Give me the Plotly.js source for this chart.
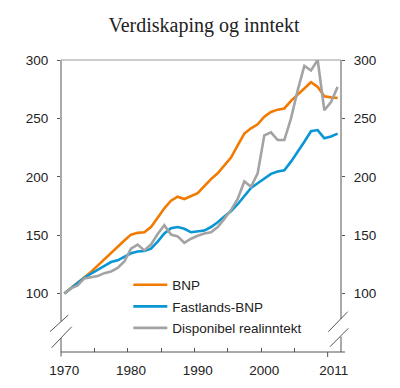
<!DOCTYPE html>
<html><head><meta charset="utf-8">
<script src="https://cdn.plot.ly/plotly-3.0.1.min.js"></script>
<style>html,body{margin:0;padding:0;background:#fff}#chart{width:400px;height:388px}</style>
</head><body><div id="chart"></div>
<script>
const years = [1970,1971,1972,1973,1974,1975,1976,1977,1978,1979,
  1980,1981,1982,1983,1984,1985,1986,1987,1988,1989,
  1990,1991,1992,1993,1994,1995,1996,1997,1998,1999,
  2000,2001,2002,2003,2004,2005,2006,2007,2008,2009,2010,2011];
const bnp = [100,104.5,109,113.5,118.5,124,129.5,135,140,145.5,
  150.5,152,152.5,157,165,173,179.5,183,181,183.5,
  186,192,198,203,210,216.5,227,237,241.5,245,
  251.5,255.5,257.5,258.5,265,270.5,276,281,277,269,268,267.5];
const fastlandsBnp = [100,104.5,108.5,113.5,117,120.5,124,127,128.5,131.5,
  134.5,136,136.5,138.5,144.5,151.5,156,157,155.5,152.5,
  153,154,157,161,166,170.5,176.5,184,190.5,194.5,
  198.5,202.5,204.5,205.5,213,221,230,239,240,233,234.5,237];
const disponibel = [100,104.5,107,113,114,115,117.5,119,122,127.5,
  138.5,142,137,142,151,158.5,150.5,149,143.5,147,
  149.5,151.5,152.5,157,164,171.5,181,196,191.5,203,
  235.5,238,231.5,231.5,250,274,295,291,300,257,264,277];
const seriesNames = ['BNP','Fastlands-BNP','Disponibel realinntekt'];
const seriesColors = ['#f27a00','#0896d4','#a3a3a3'];
const xTickLabels = ['1970','1980','1990','2000','2011'];
const xTickLabelPos = [1970.5,1980.5,1990.5,2000.5,2010.9];
const xMinorTicks = [1975,1980,1985,1990,1995,2000,2005];
const yTicks = [100,150,200,250,300];

const W=400,H=388,L=61,R=341,T=60,B=352;
const px=x=>(x-L)/(R-L), py=y=>(B-y)/(B-T);
const xs = years.map(y=>y+0.5);
const data = [bnp,fastlandsBnp,disponibel].map((v,i)=>({
  x:xs, y:v, type:'scatter', mode:'lines', name:seriesNames[i],
  legendgroup:'g'+i,
  line:{color:seriesColors[i], width:2.6}, hoverinfo:'skip'
}));
data.push({x:[1971],y:[100],xaxis:'x2',yaxis:'y2',mode:'markers',marker:{opacity:0},showlegend:false,hoverinfo:'skip'});

const ax='#555';
function seg(x0,y0,x1,y1,c){return {type:'line',xref:'paper',yref:'paper',x0:px(x0),y0:py(y0),x1:px(x1),y1:py(y1),line:{color:c||ax,width:1},layer:'above'};}
const shapes=[
  seg(L,T,L,321.5), seg(L,338,L,356.5),
  seg(50,331.7,68.3,315), seg(51.7,347.7,71.7,326.7),
  seg(R,T,R,319), seg(R,336.5,R,352),
  seg(328.3,331.7,347.7,311.7), seg(330,346.7,348.3,328.3),
  seg(L,B,345,B),
  seg(L,T,R,T,'#9a9a9a'),
];
shapes.push({type:'line',xref:'paper',yref:'paper',x0:(2010-1970)/42,x1:(2010-1970)/42,y0:0,y1:py(357),line:{color:ax,width:1},layer:'above'});

const tickFont={family:'Liberation Sans, Arial, sans-serif',size:13.5,color:'#222'};
const layout={
  width:W,height:H,margin:{l:L,r:W-R,t:T,b:H-B},
  paper_bgcolor:'#fff',plot_bgcolor:'#fff',
  title:{text:'Verdiskaping og inntekt',font:{family:'Liberation Serif, Times New Roman, serif',size:20,color:'#222'},
    x:0.51,xref:'container',xanchor:'center',y:1-25/388,yref:'container',yanchor:'middle'},
  showlegend:true,
  legend:{x:px(128.3),xanchor:'left',y:py(269.5),yanchor:'top',bgcolor:'rgba(0,0,0,0)',borderwidth:0,
    font:{family:'Liberation Sans, Arial, sans-serif',size:13.5,color:'#222'},
    traceorder:'grouped',tracegroupgap:1,itemwidth:34},
  xaxis:{range:[1970,2012],tickvals:xMinorTicks,ticks:'inside',ticklen:4,tickcolor:ax,tickwidth:1,
    showticklabels:false,showgrid:false,zeroline:false,showline:false,fixedrange:true},
  xaxis2:{overlaying:'x',anchor:'y',side:'bottom',range:[1970,2012],tickvals:xTickLabelPos,ticktext:xTickLabels,
    ticks:'',showgrid:false,zeroline:false,showline:false,tickfont:tickFont,ticklabelstandoff:8},
  yaxis:{range:[50,300],tickvals:yTicks,ticks:'outside',ticklen:3,tickcolor:ax,tickwidth:1,
    showgrid:false,zeroline:false,showline:false,tickfont:tickFont,ticklabelstandoff:6},
  yaxis2:{overlaying:'y',anchor:'x',side:'right',range:[50,300],tickvals:yTicks,ticks:'outside',ticklen:3,tickcolor:ax,tickwidth:1,
    showgrid:false,zeroline:false,showline:false,tickfont:tickFont,ticklabelstandoff:6},
  shapes:shapes
};
Plotly.newPlot('chart',data,layout,{staticPlot:true,displayModeBar:false});
</script></body></html>
